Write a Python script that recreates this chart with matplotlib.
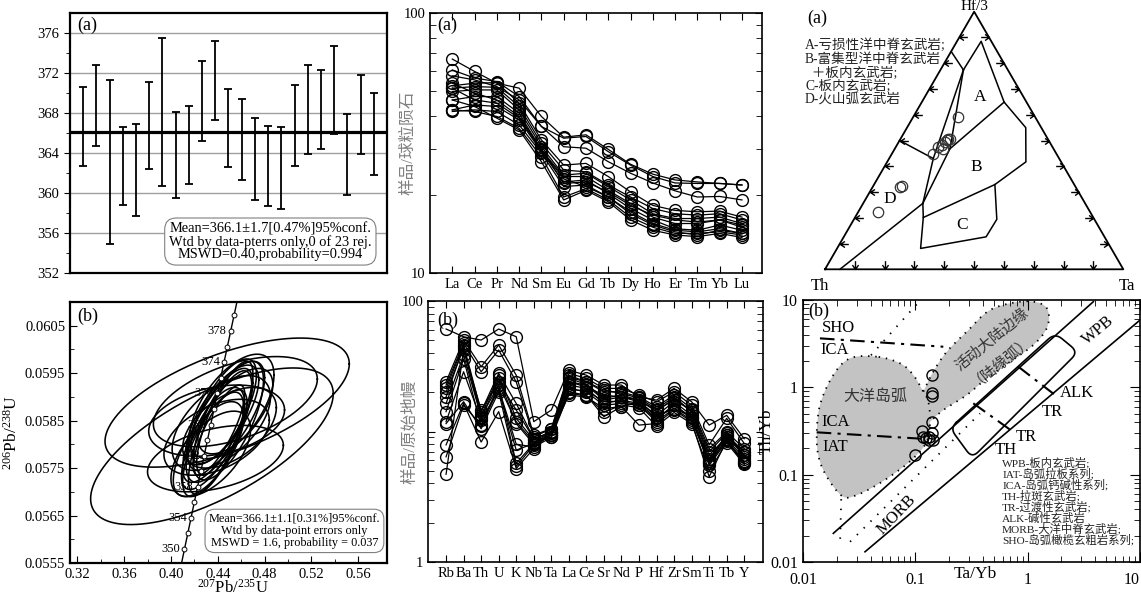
import numpy as np
import matplotlib
matplotlib.use("Agg")
import matplotlib.pyplot as plt
from matplotlib.path import Path
from matplotlib.ticker import NullFormatter

plt.rcParams['font.family'] = ['Liberation Serif', 'Noto Sans CJK SC']
plt.rcParams['mathtext.fontset'] = 'custom'
plt.rcParams['mathtext.rm'] = 'Liberation Serif'
plt.rcParams['mathtext.it'] = 'Liberation Serif:italic'
plt.rcParams['axes.linewidth'] = 1.2

# ---------------- data ----------------
# zircon 206Pb/238U ages (Ma) and 2s errors
ages = [366.62, 368.78, 363.08, 362.68, 362.33, 366.75, 368.08, 363.78, 364.80, 369.20,
        371.25, 366.48, 365.35, 363.38, 362.70, 362.52, 366.78, 368.35, 368.32, 370.33,
        363.88, 367.83, 365.87]
errs = [3.95, 4.05, 8.18, 3.92, 4.60, 4.32, 7.42, 4.32, 3.93, 4.03,
        3.98, 3.88, 4.02, 4.08, 4.03, 4.08, 4.05, 4.42, 3.95, 4.40,
        4.05, 3.93, 4.10]
mean_age = 366.1

# concordia error ellipses: centre, half widths and correlation
ell_cx = [0.435, 0.448, 0.439, 0.438, 0.455,
          0.445, 0.440, 0.438, 0.447, 0.452, 0.436, 0.441, 0.449, 0.432,
          0.443, 0.455, 0.437, 0.446, 0.434, 0.450, 0.442, 0.439, 0.444]
ell_cy = [0.05796, 0.05888, 0.05850, 0.05770, 0.05890,
          0.05870, 0.05840, 0.05820, 0.05860, 0.05880, 0.05800, 0.05830, 0.05850, 0.05790,
          0.05845, 0.05870, 0.05810, 0.05855, 0.05780, 0.05835, 0.05825, 0.05815, 0.05862]
ell_sx = [0.1036, 0.1043, 0.058, 0.058, 0.070,
          0.028, 0.030, 0.025, 0.033, 0.036, 0.026, 0.022, 0.030, 0.030,
          0.042, 0.032, 0.028, 0.024, 0.034, 0.040, 0.027, 0.045, 0.031]
ell_sy = [0.00165, 0.00136, 0.00075, 0.00070, 0.00095,
          0.00110, 0.00120, 0.00100, 0.00115, 0.00110, 0.00110, 0.00095, 0.00125, 0.00100,
          0.00100, 0.00090, 0.00105, 0.00120, 0.00090, 0.00085, 0.00130, 0.00080, 0.00105]
ell_rho = [0.67, 0.60, 0.30, 0.40, 0.50,
           0.70, 0.75, 0.65, 0.70, 0.60, 0.72, 0.80, 0.68, 0.66,
           0.55, 0.62, 0.74, 0.78, 0.58, 0.50, 0.76, 0.45, 0.70]
concordia_marks = np.arange(350, 381, 2)
concordia_labels = np.arange(350, 379, 4)
lam238, lam235 = 1.55125e-10, 9.8485e-10

# chondrite normalised REE
ree_names = ['La', 'Ce', 'Pr', 'Nd', 'Sm', 'Eu', 'Gd', 'Tb', 'Dy', 'Ho', 'Er', 'Tm', 'Yb', 'Lu']
ree_rows = [
    [66.5, 59.6, 53.7, 51.4, 40.0, 33.3, 34.0, 29.9, 26.2, 24.0, 22.8, 22.4, 22.1, 21.8],
    [60.4, 56.2, 54.5, 47.7, 36.6, 33.0, 33.5, 29.3, 26.0, 23.5, 22.2, 22.1, 22.1, 21.8],
    [57.3, 55.3, 52.1, 46.3, 36.6, 30.6, 30.2, 26.8, 24.2, 22.2, 20.7, 19.6, 19.7, 19.1],
    [52.5, 53.7, 54.0, 45.0, 32.5, 26.0, 26.4, 23.5, 20.5, 18.2, 17.4, 17.2, 17.3, 16.4],
    [51.4, 52.1, 51.8, 43.7, 31.5, 24.9, 24.5, 21.8, 19.6, 17.7, 16.9, 16.7, 16.9, 16.0],
    [49.9, 50.6, 50.6, 42.4, 30.6, 23.8, 24.2, 21.5, 19.1, 16.9, 16.2, 16.2, 16.4, 15.5],
    [46.3, 47.7, 47.7, 41.2, 29.7, 23.5, 23.5, 20.8, 18.5, 16.4, 15.5, 15.5, 16.0, 15.0],
    [42.4, 44.3, 43.7, 38.8, 29.3, 22.4, 22.8, 20.2, 17.7, 16.0, 14.8, 14.6, 15.3, 14.6],
    [41.8, 42.4, 41.8, 37.1, 28.9, 21.5, 21.8, 19.6, 17.2, 15.5, 14.6, 14.4, 14.8, 14.2],
    [42.4, 41.8, 40.0, 36.0, 28.0, 19.6, 21.1, 19.1, 16.4, 15.0, 14.2, 14.2, 14.4, 14.0],
    [46.3, 43.7, 39.4, 35.5, 26.8, 19.1, 20.8, 18.8, 16.0, 14.6, 14.0, 13.8, 14.2, 13.7],
    [53.7, 49.2, 46.3, 40.0, 30.0, 22.1, 22.4, 20.5, 18.2, 16.7, 16.0, 15.7, 16.0, 15.3],
    [51.4, 46.3, 45.0, 39.4, 29.7, 23.0, 21.5, 19.6, 16.9, 15.3, 14.4, 14.0, 14.6, 14.2],
]

# primitive mantle normalised trace elements
tr_names = ['Rb', 'Ba', 'Th', 'U', 'K', 'Nb', 'Ta', 'La', 'Ce', 'Sr', 'Nd', 'P', 'Hf', 'Zr',
            'Sm', 'Ti', 'Tb', 'Y']
tr_rows = [
    [61.0, 53.2, 50.2, 61.0, 53.2, 11.9, 14.6, 29.5, 27.0, 22.7, 22.7, 18.4, 17.4, 21.4, 16.9, 11.2, 13.3, 8.8],
    [24.0, 50.2, 31.4, 46.0, 27.0, 9.4, 10.5, 27.9, 25.5, 21.4, 21.4, 19.0, 16.9, 20.1, 15.9, 7.9, 12.6, 8.1],
    [22.7, 47.3, 28.7, 42.1, 24.0, 9.1, 10.5, 27.0, 24.0, 20.1, 20.1, 18.4, 15.5, 19.0, 15.0, 7.4, 9.9, 7.4],
    [21.4, 46.0, 14.2, 27.9, 16.4, 8.8, 9.9, 25.5, 23.0, 18.0, 19.0, 17.4, 14.2, 18.0, 14.2, 6.2, 9.4, 7.0],
    [20.1, 43.3, 13.3, 27.0, 12.6, 8.6, 9.7, 24.0, 22.7, 17.4, 18.4, 16.9, 13.3, 16.9, 13.3, 5.9, 9.1, 6.6],
    [16.4, 38.5, 13.0, 22.7, 11.9, 8.3, 9.4, 22.7, 21.4, 16.4, 17.4, 16.4, 12.6, 15.9, 12.6, 5.7, 8.8, 6.2],
    [11.9, 28.7, 12.2, 20.8, 7.2, 8.1, 9.1, 21.4, 20.1, 15.9, 16.4, 15.9, 11.9, 15.0, 12.2, 5.7, 8.6, 5.9],
    [11.5, 16.9, 10.5, 20.1, 5.4, 7.9, 9.4, 20.1, 19.0, 13.0, 15.5, 11.2, 11.5, 14.6, 11.9, 4.5, 8.6, 5.7],
    [7.9, 16.4, 8.3, 14.2, 5.2, 7.4, 9.7, 19.0, 18.4, 15.0, 15.5, 16.9, 13.0, 15.0, 13.0, 5.9, 9.4, 6.4],
    [6.4, 15.9, 11.2, 22.7, 5.7, 8.1, 9.9, 24.0, 22.0, 19.0, 18.4, 17.4, 14.6, 17.4, 14.6, 7.0, 9.7, 6.6],
    [4.7, 42.1, 14.6, 24.0, 14.6, 8.8, 9.9, 26.0, 24.0, 20.8, 19.6, 18.0, 14.9, 18.4, 14.2, 6.6, 9.1, 7.0],
    [18.4, 45.0, 12.6, 25.5, 11.5, 8.0, 9.4, 21.0, 20.5, 17.0, 17.0, 16.0, 12.3, 16.0, 12.8, 5.5, 8.4, 5.8],
    [14.2, 36.0, 11.0, 21.4, 8.0, 7.6, 9.0, 19.6, 18.8, 14.0, 16.0, 15.2, 11.0, 14.0, 11.5, 5.0, 8.2, 5.6],
]

# Th - Hf/3 - Ta samples (fractions)
tern_th = [0.258, 0.333, 0.342, 0.351, 0.368, 0.383, 0.412, 0.369, 0.581, 0.589, 0.710, 0.330]
tern_hf = [0.591, 0.507, 0.501, 0.494, 0.481, 0.475, 0.449, 0.468, 0.324, 0.320, 0.223, 0.505]
tern_ta = [0.152, 0.160, 0.158, 0.155, 0.151, 0.143, 0.139, 0.162, 0.095, 0.092, 0.067, 0.165]
# Wood (1980) field vertices (Hf/3, Ta), Th is the remainder
wood_vertices = {
    'a': (0.842, 0.004), 'b': (0.774, 0.077), 'c': (0.885, 0.081),
    'd': (0.649, 0.276), 'e': (0.550, 0.398), 'f': (0.417, 0.465),
    'g': (0.468, 0.185), 'h': (0.201, 0.229), 'i': (0.329, 0.405),
    'j': (0.194, 0.479), 'k': (0.126, 0.477), 'l': (0.081, 0.280),
    'm': (0.256, 0.200), 'n': (0.430, 0.148), 'o': (0.500, 0.000),
    'p': (0.000, 0.050),
}
wood_lines = ['ab', 'bcdefih', 'dg', 'ijklhm', 'bnm', 'bgm', 'on', 'pm']

# Th/Yb vs Ta/Yb samples
tayb = [0.140, 0.140, 0.142, 0.140, 0.114, 0.118, 0.131, 0.140, 0.131, 0.1445, 0.0994, 0.125]
thyb = [1.38, 0.85, 0.80, 0.40, 0.32, 0.27, 0.27, 0.30, 0.25, 0.25, 0.17, 0.26]
# Pearce diagram fields, log10 coordinates
arc_lx = [-1.344, -1.581, -1.730, -1.849, -1.878, -1.849, -1.760, -1.641, -1.522, -1.344,
          -1.166, -1.018, -0.898, -0.869, -0.884, -0.929, -1.018, -1.136]
arc_ly = [0.351, 0.332, 0.141, -0.203, -0.584, -0.852, -1.081, -1.253, -1.234, -1.119,
          -0.967, -0.813, -0.623, -0.394, -0.165, -0.050, 0.141, 0.275]
acm_lx = [-0.929, -0.840, -0.720, -0.542, -0.335, -0.068, 0.110, 0.184, 0.170, 0.051,
          -0.157, -0.364, -0.542, -0.751, -0.869]
acm_ly = [-0.050, 0.179, 0.408, 0.637, 0.885, 0.981, 0.962, 0.866, 0.676, 0.485,
          0.293, 0.103, -0.088, -0.260, -0.394]
array_upper = ([-1.730, 0.585], [-1.672, 0.981])
array_lower = ([-1.448, 1.001], [-1.883, 0.771])
wpb_lx = [-0.691, -0.495, 0.449, 0.244]
wpb_ly = [-0.466, -0.810, 0.404, 0.622]
dashdot_lines = [([-1.849, -0.751], [0.561, 0.465]),
                 ([-1.878, -0.898], [-0.515, -0.592]),
                 ([-0.083, 0.244], [0.236, -0.088]),
                 ([-0.484, -0.140], [-0.183, -0.500])]
dotted_lines = [([-0.988, -1.400], [0.950, 0.360]),
                ([-1.660, -1.670], [-1.280, -1.790]),
                ([-1.581, -0.424], [-1.768, -0.299])]

# ---------------- helpers ----------------
W, H = 1141.0, 598.0


def box(x0, y0, x1, y1):
    return [x0 / W, 1 - y1 / H, (x1 - x0) / W, (y1 - y0) / H]


def tern(th, hf, ta):
    th, hf, ta = (np.asarray(v, float) for v in (th, hf, ta))
    s = th + hf + ta
    return ta / s + 0.5 * hf / s, np.sqrt(3) / 2 * hf / s


def smooth(px, py, closed=True, n=12):
    p = np.column_stack([px, py])
    p = np.vstack([p[-1], p, p[0], p[1]]) if closed else np.vstack([p[0], p, p[-1]])
    t = np.linspace(0, 1, n, endpoint=False)[:, None]
    out = []
    for i in range(1, len(p) - 2):
        p0, p1, p2, p3 = p[i - 1], p[i], p[i + 1], p[i + 2]
        out.append(0.5 * (2 * p1 + (p2 - p0) * t + (2 * p0 - 5 * p1 + 4 * p2 - p3) * t ** 2
                          + (3 * p1 - p0 - 3 * p2 + p3) * t ** 3))
    out.append(p[-2][None])
    out = np.vstack(out)
    return out[:, 0], out[:, 1]


def rounded(px, py, r=0.09):
    p = np.column_stack([px, py])
    s = np.linspace(0, 1, 8)[:, None]
    pts = []
    for i in range(len(p)):
        a, b, c = p[i - 1], p[i], p[(i + 1) % len(p)]
        u = b + (a - b) * r / np.linalg.norm(a - b)
        v = b + (c - b) * r / np.linalg.norm(c - b)
        pts.append((1 - s) ** 2 * u + 2 * (1 - s) * s * b + s ** 2 * v)
    pts = np.vstack(pts + [pts[0][:1]])
    return pts[:, 0], pts[:, 1]


fig = plt.figure(figsize=(11.41, 5.98), dpi=100)

# ---------------- top left: weighted mean ----------------
ax1 = fig.add_axes(box(70, 13, 387, 273))
idx = np.arange(1, len(ages) + 1)
ax1.set_axisbelow(True)
ax1.yaxis.grid(True, color='#a0a0a0', lw=1.0)
ax1.errorbar(idx, ages, yerr=errs, fmt='none', ecolor='k', elinewidth=1.3, capsize=3, capthick=1.3)
ax1.axhline(mean_age, color='k', lw=2.3)
ax1.set_xlim(0, 24)
ax1.set_ylim(352, 378)
ax1.set_xticks([])
ax1.set_yticks(np.arange(352, 377, 4))
ax1.set_yticks(np.arange(354, 378, 4), minor=True)
ax1.tick_params(axis='y', which='both', direction='out', labelsize=10.5)
ax1.tick_params(axis='y', which='major', length=4)
ax1.tick_params(axis='y', which='minor', length=3)
for sp in ax1.spines.values():
    sp.set_linewidth(1.6)
ax1.text(0.022, 0.985, '(a)', transform=ax1.transAxes, fontsize=13, va='top')
ax1.text(0.632, 0.121, 'Mean=366.1±1.7[0.47%]95%conf.\nWtd by data-pterrs only,0 of 23 rej.\n'
         'MSWD=0.40,probability=0.994', transform=ax1.transAxes, ha='center', va='center',
         fontsize=10.4, linespacing=0.92,
         bbox=dict(boxstyle='round,pad=0.3,rounding_size=0.8', fc='white', ec='#808080', lw=0.8))

# ---------------- bottom left: concordia ----------------
ax2 = fig.add_axes(box(70, 302, 387, 563))
tt = np.linspace(0, 2 * np.pi, 240)
for cx, cy, sx, sy, r in zip(ell_cx, ell_cy, ell_sx, ell_sy, ell_rho):
    ax2.plot(cx + sx * np.cos(tt), cy + sy * (r * np.cos(tt) + np.sqrt(1 - r * r) * np.sin(tt)),
             color='k', lw=1.15, zorder=3)
tc = np.linspace(330, 390, 300) * 1e6
ax2.plot(np.expm1(lam235 * tc), np.expm1(lam238 * tc), color='k', lw=1.0, zorder=2)
tm = concordia_marks * 1e6
ax2.plot(np.expm1(lam235 * tm), np.expm1(lam238 * tm), 'o', ms=3.5, mfc='white', mec='k',
         mew=0.7, zorder=4)
for a in concordia_labels:
    ax2.annotate(str(a), (np.expm1(lam235 * a * 1e6), np.expm1(lam238 * a * 1e6)),
                 xytext=(-3, 0), textcoords='offset points', ha='right', va='center',
                 fontsize=9, zorder=1)
ax2.set_xlim(0.3138, 0.5845)
ax2.set_ylim(0.0555, 0.0610)
ax2.set_xticks(np.round(np.arange(0.32, 0.57, 0.04), 2))
ax2.set_xticks(np.round(np.arange(0.34, 0.58, 0.04), 2), minor=True)
ax2.set_yticks(np.round(np.arange(0.0555, 0.0606, 0.001), 4))
ax2.set_yticks(np.round(np.arange(0.0560, 0.0611, 0.001), 4), minor=True)
ax2.xaxis.set_major_formatter(lambda v, p: '%.2f' % v)
ax2.yaxis.set_major_formatter(lambda v, p: '%.4f' % v)
ax2.tick_params(which='both', direction='in', labelsize=10.5)
ax2.tick_params(which='major', length=5)
ax2.tick_params(which='minor', length=3)
for sp in ax2.spines.values():
    sp.set_linewidth(1.6)
ax2.set_ylabel('$^{206}$Pb/$^{238}$U', fontsize=12.5)
ax2.yaxis.set_label_coords(-0.155, 0.5)
ax2.set_xlabel('$^{207}$Pb/$^{235}$U', fontsize=12)
ax2.xaxis.set_label_coords(0.514, -0.06)
ax2.text(0.022, 0.977, '(b)', transform=ax2.transAxes, fontsize=13, va='top')
ax2.text(0.708, 0.123, 'Mean=366.1±1.1[0.31%]95%conf.\nWtd by data-point errors only\n'
         'MSWD = 1.6, probability = 0.037', transform=ax2.transAxes, ha='center', va='center',
         fontsize=8.8, linespacing=1.0, zorder=6,
         bbox=dict(boxstyle='round,pad=0.3,rounding_size=0.8', fc='white', ec='#808080', lw=0.8))

# ---------------- top middle: REE ----------------
ax3 = fig.add_axes(box(430, 13, 762, 273))
xr = np.arange(len(ree_names))
for row in ree_rows:
    ax3.plot(xr, row, '-o', color='k', lw=0.9, ms=8.5, mfc='none', mew=1.0)
ax3.set_yscale('log')
ax3.set_ylim(10, 100)
ax3.set_xlim(-1, len(ree_names) - 0.1)
ax3.set_xticks(xr, ree_names)
ax3.set_yticks([10, 100], ['10', '100'])
ax3.yaxis.set_minor_formatter(NullFormatter())
ax3.tick_params(which='both', direction='in', top=True, right=True, labelsize=10.5)
ax3.tick_params(which='major', length=5)
ax3.tick_params(which='minor', length=4)
ax3.set_ylabel('样品/球粒陨石', color='#808080', fontsize=12)
ax3.yaxis.set_label_coords(-0.04, 0.5)
ax3.text(0.022, 0.985, '(a)', transform=ax3.transAxes, fontsize=13, va='top')

# ---------------- bottom middle: spider ----------------
ax4 = fig.add_axes(box(428, 301, 763, 562))
xt = np.arange(len(tr_names))
for row in tr_rows:
    ax4.plot(xt, row, '-o', color='k', lw=0.9, ms=8.5, mfc='none', mew=1.0)
ax4.set_yscale('log')
ax4.set_ylim(1, 100)
ax4.set_xlim(-1.03, len(tr_names) + 0.07)
ax4.set_xticks(xt, tr_names)
ax4.set_yticks([1, 10, 100], ['1', '', '100'])
ax4.yaxis.set_minor_formatter(NullFormatter())
ax4.tick_params(which='both', direction='in', top=True, right=True, labelsize=10.5)
ax4.tick_params(which='major', length=5)
ax4.tick_params(which='minor', length=4)
ax4.set_ylabel('样品/原始地幔', color='#808080', fontsize=12)
ax4.yaxis.set_label_coords(-0.03, 0.5)
ax4.text(0.027, 0.96, '(b)', transform=ax4.transAxes, fontsize=13, va='top')

# ---------------- top right: Th - Hf/3 - Ta ----------------
ax5 = fig.add_axes(box(825, 11.7, 1123.3, 269.3))
ax5.set_xlim(0, 1)
ax5.set_ylim(0, np.sqrt(3) / 2)
ax5.axis('off')
cx_, cy_ = tern([1, 0, 0, 1], [0, 1, 0, 0], [0, 0, 1, 0])
ax5.plot(cx_, cy_, color='k', lw=1.3, clip_on=False)
for seg in wood_lines:
    hf = [wood_vertices[k][0] for k in seg]
    ta = [wood_vertices[k][1] for k in seg]
    th = [1 - a - b for a, b in zip(hf, ta)]
    sx_, sy_ = tern(th, hf, ta)
    ax5.plot(sx_, sy_, color='k', lw=1.1, clip_on=False)
M, L = Path.MOVETO, Path.LINETO
arrow_left = Path([(1.5, 0), (0, 0), (0.8, 0.55), (0, 0), (0.8, -0.55)], [M, L, M, L, L])
arrow_right = Path([(-1.5, 0), (0, 0), (-0.8, 0.55), (0, 0), (-0.8, -0.55)], [M, L, M, L, L])
arrow_down = Path([(0, 1.5), (0, 0), (0.55, 0.8), (0, 0), (-0.55, 0.8)], [M, L, M, L, L])
steps = np.arange(1, 10) / 10.0
for (th, hf, ta), mk in [((1 - steps, steps, 0 * steps), arrow_left),
                         ((0 * steps, steps, 1 - steps), arrow_right),
                         ((1 - steps, 0 * steps, steps), arrow_down)]:
    px, py = tern(th, hf, ta)
    ax5.plot(px, py, ls='none', marker=mk, ms=12, mec='k', mfc='none', mew=1.0, clip_on=False)
px, py = tern(tern_th, tern_hf, tern_ta)
ax5.plot(px, py, 'o', ms=7.5, mfc='none', mec='#333333', mew=0.9, clip_on=False)
ax5.text(0.5, 0.884, 'Hf/3', ha='center', va='center', fontsize=11)
ax5.text(-0.017, -0.03, 'Th', ha='center', va='top', fontsize=12)
ax5.text(1.012, -0.03, 'Ta', ha='center', va='top', fontsize=12)
for lab, (x, y) in zip('ABCD', [(0.520, 0.579), (0.506, 0.344), (0.458, 0.149), (0.218, 0.238)]):
    ax5.text(x, y, lab, ha='center', va='center', fontsize=12.5)
ax5.text(-0.06, 0.843, '(a)', ha='left', va='center', fontsize=13)
legend_a = ['A-亏损性洋中脊玄武岩;', 'B-富集型洋中脊玄武岩', '  ＋板内玄武岩;', 'C-板内玄武岩;', 'D-火山弧玄武岩']
for i, s in enumerate(legend_a):
    ax5.text(-0.067, 0.752 - i * 0.046, s, ha='left', va='center', fontsize=9.8, color='#222222')

# ---------------- bottom right: Th/Yb vs Ta/Yb ----------------
ax6 = fig.add_axes(box(803, 300, 1140, 562))
ax6.set_xscale('log')
ax6.set_yscale('log')
gx, gy = smooth(arc_lx, arc_ly, closed=True)
ax6.fill(10 ** gx, 10 ** gy, color='#c3c3c3', lw=0, zorder=1)
ax6.plot(10 ** gx, 10 ** gy, color='k', lw=1.3, ls=(0, (0.8, 3.2)), zorder=2)
hx, hy = smooth(acm_lx, acm_ly, closed=False)
ax6.fill(10 ** hx, 10 ** hy, color='#c3c3c3', lw=0, zorder=1)
ax6.plot(10 ** hx, 10 ** hy, color='k', lw=1.3, ls=(0, (0.8, 3.2)), zorder=2)
for lx, ly in [array_upper, array_lower]:
    ax6.plot(10 ** np.array(lx), 10 ** np.array(ly), color='k', lw=1.2, zorder=3)
rx, ry = rounded(wpb_lx, wpb_ly)
ax6.plot(10 ** rx, 10 ** ry, color='k', lw=1.2, zorder=3)
for lx, ly in dashdot_lines:
    ax6.plot(10 ** np.array(lx), 10 ** np.array(ly), color='k', lw=1.5, ls=(0, (7, 3, 1.5, 3)), zorder=3)
for lx, ly in dotted_lines:
    ax6.plot(10 ** np.array(lx), 10 ** np.array(ly), color='k', lw=1.3, ls=(0, (0.8, 4.5)), zorder=3)
ax6.plot(tayb, thyb, 'o', ms=8, mfc='none', mec='k', mew=1.0, zorder=4)
ax6.set_xlim(0.01, 10)
ax6.set_ylim(0.01, 10)
ax6.set_xticks([0.01, 0.1, 1, 10], ['0.01', '0.1', '1', '10'])
ax6.set_yticks([0.01, 0.1, 1, 10], ['0.01', '0.1', '1', '10'])
ax6.get_xticklabels()[-1].set_horizontalalignment('right')
ax6.xaxis.set_minor_formatter(NullFormatter())
ax6.yaxis.set_minor_formatter(NullFormatter())
ax6.tick_params(which='both', direction='in', top=True, right=True, labelsize=11.5)
ax6.tick_params(which='major', length=7)
ax6.tick_params(which='minor', length=4)
ax6.tick_params(axis='x', pad=7)
ax6.set_ylabel('Th/Yb', fontsize=12.5)
ax6.yaxis.set_label_coords(-0.083, 0.5)
ax6.text(0.51, -0.015, 'Ta/Yb', transform=ax6.transAxes, ha='center', va='top', fontsize=12.5)
ax6.text(0.015, 0.99, '(b)', transform=ax6.transAxes, ha='left', va='top', fontsize=13, zorder=5)


def lbl(lx, ly, s, **kw):
    ax6.text(10 ** lx, 10 ** ly, s, zorder=5, **kw)


lbl(-1.833, 0.676, 'SHO', ha='left', va='center', fontsize=12)
lbl(-1.849, 0.427, 'ICA', ha='left', va='center', fontsize=12)
lbl(-1.833, -0.394, 'ICA', ha='left', va='center', fontsize=12)
lbl(-1.824, -0.680, 'IAT', ha='left', va='center', fontsize=12)
lbl(-1.352, -0.108, '大洋岛弧', ha='center', va='center', fontsize=11.5, color='#333333')
lbl(-0.321, 0.553, '活动大陆边缘', ha='center', va='center', fontsize=10.8, rotation=39, color='#333333')
lbl(-0.255, 0.347, '（陆缘弧）', ha='center', va='center', fontsize=10.8, rotation=39, color='#333333')
lbl(0.630, 0.656, 'WPB', ha='center', va='center', fontsize=12, rotation=40)
lbl(0.289, -0.069, 'ALK', ha='left', va='center', fontsize=12)
lbl(0.215, -0.279, 'TR', ha='center', va='center', fontsize=12)
lbl(-0.110, -0.566, 'TR', ha='left', va='center', fontsize=12)
lbl(-0.194, -0.718, 'TH', ha='center', va='center', fontsize=12)
lbl(-1.166, -1.463, 'MORB', ha='center', va='center', fontsize=12, rotation=46)
legend_b = ['WPB-板内玄武岩;', 'IAT-岛弧拉板系列;', 'ICA-岛弧钙碱性系列;', 'TH-拉斑玄武岩;',
            'TR-过渡性玄武岩;', 'ALK-碱性玄武岩', 'MORB-大洋中脊玄武岩;', 'SHO-岛弧橄榄玄粗岩系列;']
for i, s in enumerate(legend_b):
    ax6.text(0.591, 0.377 - i * 0.042, s, transform=ax6.transAxes, ha='left', va='center',
             fontsize=8.2, color='#222222', zorder=5)

fig.savefig('out.png', dpi=100)
